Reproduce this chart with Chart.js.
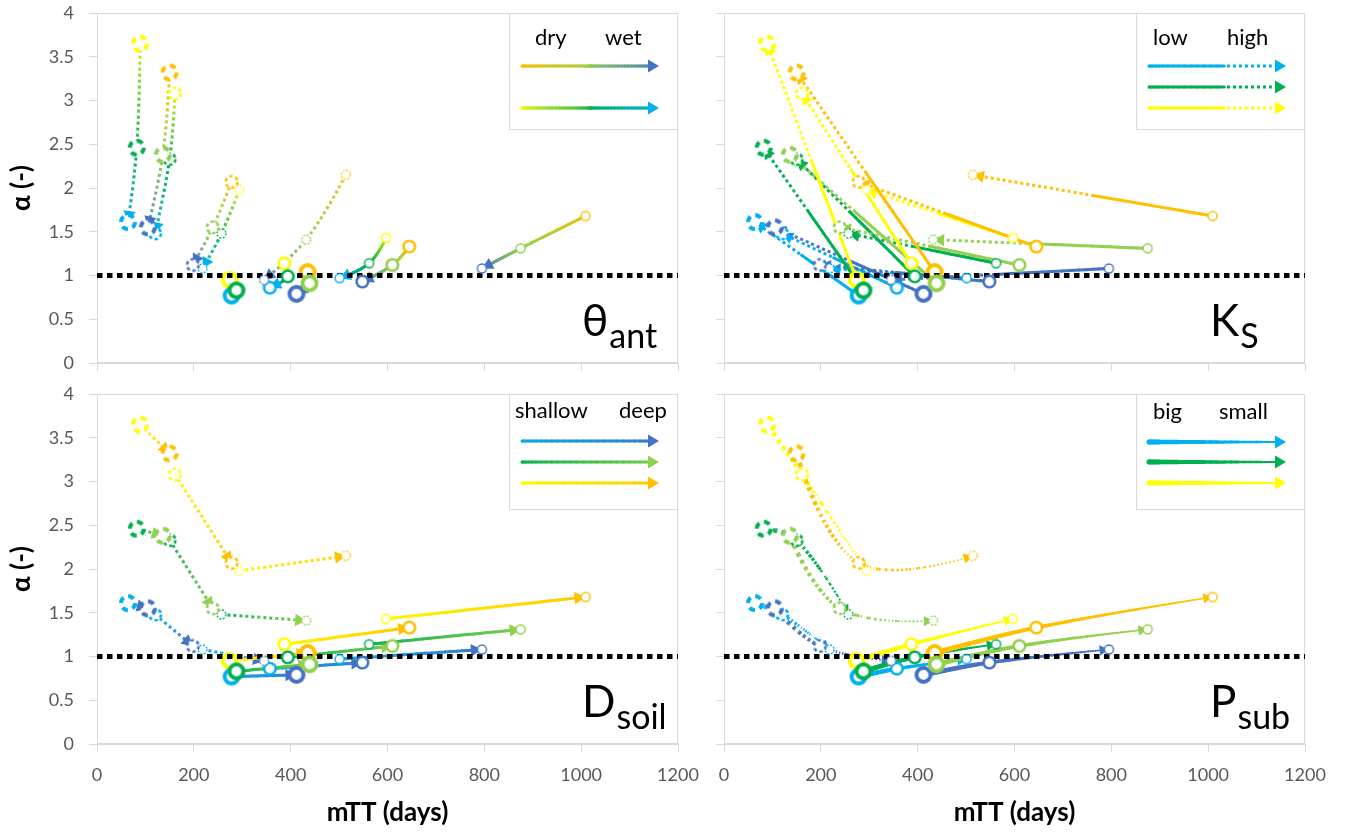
<!DOCTYPE html>
<html><head><meta charset="utf-8">
<script src="https://cdn.jsdelivr.net/npm/chart.js@4.4.1/dist/chart.umd.min.js"></script>
<style>
html,body{margin:0;padding:0;background:#fff;}
body{width:1351px;height:833px;position:relative;overflow:hidden;}
canvas{position:absolute;}
</style></head><body>
<canvas id="c1" width="705" height="378" style="left:0;top:0;width:705px;height:378px"></canvas>
<canvas id="c2" width="661" height="378" style="left:690px;top:0;width:661px;height:378px"></canvas>
<canvas id="c3" width="705" height="455" style="left:0;top:378px;width:705px;height:455px"></canvas>
<canvas id="c4" width="661" height="455" style="left:690px;top:378px;width:661px;height:455px"></canvas>
<script>
// ---------------- DATA ----------------
const thetaLevels = ['dry', 'mid', 'wet'];          // antecedent moisture
const ksLevels = ['low', 'high'];                   // saturated conductivity
const dsoilLevels = ['shallow', 'deep'];            // soil depth
const psubLevels = ['big', 'medium', 'small'];      // subsurface parameter
// order inside each array: Ks(low,high) x Dsoil(shallow,deep) x Psub(big,medium,small)
const mTT_dry   = [274, 387, 597,  435, 645, 1009,  89, 161, 294,  150, 278, 514];
const alpha_dry = [0.95, 1.14, 1.43, 1.04, 1.33, 1.68, 3.65, 3.08, 1.98, 3.32, 2.07, 2.15];
const mTT_mid   = [288, 394, 562,  439, 610, 875,   82, 150, 257,  136, 239, 432];
const alpha_mid = [0.83, 0.99, 1.14, 0.91, 1.12, 1.31, 2.46, 2.33, 1.48, 2.38, 1.55, 1.41];
const mTT_wet   = [278, 357, 501,  412, 548, 795,   64, 120, 218,  105, 198, 345];
const alpha_wet = [0.77, 0.86, 0.97, 0.79, 0.93, 1.08, 1.61, 1.48, 1.08, 1.55, 1.12, 0.95];
const xTicks = [0, 200, 400, 600, 800, 1000, 1200];
const yTicks = [0, 0.5, 1, 1.5, 2, 2.5, 3, 3.5, 4];
const refAlpha = 1;
const xTitle = 'mTT (days)';
const yTitle = 'α (-)';
const panelLabels = [['θ', 'ant'], ['K', 'S'], ['D', 'soil'], ['P', 'sub']];
const legendWords = [['dry', 'wet'], ['low', 'high'], ['shallow', 'deep'], ['big', 'small']];

const seriesX = [mTT_dry, mTT_mid, mTT_wet];
const seriesY = [alpha_dry, alpha_mid, alpha_wet];

// ---------------- STYLE ----------------
const FONT = "Lato, 'Open Sans', 'DejaVu Sans', sans-serif";
Chart.defaults.font.family = FONT;
const pointColors = [['#FFFF00', '#FFC000'], ['#00B050', '#92D050'], ['#00B0F0', '#4472C4']];
const drawOrder = [3, 1, 2]; // dry drawn first, then wet, then mid on top
const IDX = (k, d, p) => k * 6 + d * 3 + p;

function hexToRgb(h) { h = h.replace('#', ''); return [parseInt(h.slice(0, 2), 16), parseInt(h.slice(2, 4), 16), parseInt(h.slice(4, 6), 16)]; }
function mix(c0, c1, t) {
  const a = hexToRgb(c0), b = hexToRgb(c1);
  return 'rgb(' + Math.round(a[0] + (b[0] - a[0]) * t) + ',' + Math.round(a[1] + (b[1] - a[1]) * t) + ',' + Math.round(a[2] + (b[2] - a[2]) * t) + ')';
}

// marker canvases
function makeMarker(color, dotted, p) {
  const r = [7, 5.8, 4.5][p], lw = [4, 2.6, 1.4][p];
  const size = Math.ceil(2 * (r + lw / 2) + 2);
  const c = document.createElement('canvas'); c.width = c.height = size;
  const g = c.getContext('2d');
  g.beginPath(); g.arc(size / 2, size / 2, r, 0, Math.PI * 2);
  g.fillStyle = '#fff'; g.fill();
  g.strokeStyle = color; g.lineWidth = lw;
  if (dotted) {
    const circ = 2 * Math.PI * r; const n = [4, 6, 8][p];
    g.setLineDash([circ / n * 0.55, circ / n * 0.45]);
  }
  g.stroke();
  return c;
}
const markers = thetaLevels.map((_, t) => {
  const arr = [];
  for (let k = 0; k < 2; k++) for (let d = 0; d < 2; d++) for (let p = 0; p < 3; p++)
    arr[IDX(k, d, p)] = makeMarker(pointColors[t][d], k === 1, p);
  return arr;
});

// ---------------- LINE DRAWING ----------------
function splineCps(p0, p1, p2, ten) {
  const d01 = Math.hypot(p1.x - p0.x, p1.y - p0.y), d12 = Math.hypot(p2.x - p1.x, p2.y - p1.y);
  const s = d01 + d12 || 1;
  const fa = ten * d01 / s, fb = ten * d12 / s;
  return {
    prev: { x: p1.x - fa * (p2.x - p0.x), y: p1.y - fa * (p2.y - p0.y) },
    next: { x: p1.x + fb * (p2.x - p0.x), y: p1.y + fb * (p2.y - p0.y) }
  };
}
function drawChain(ctx, P, colors, o) {
  const segs = [];
  for (let i = 0; i < P.length - 1; i++) {
    let c1 = P[i], c2 = P[i + 1];
    if (o.curve && P.length > 2) {
      if (i > 0) c1 = splineCps(P[i - 1], P[i], P[i + 1], 0.4).next;
      if (i + 1 < P.length - 1) c2 = splineCps(P[i], P[i + 1], P[i + 2], 0.4).prev;
    }
    segs.push([P[i], c1, c2, P[i + 1]]);
  }
  const S = []; let L = 0; const n = 30;
  segs.forEach((s, i) => {
    for (let j = (i === 0 ? 0 : 1); j <= n; j++) {
      const t = j / n, u = 1 - t;
      const x = u * u * u * s[0].x + 3 * u * u * t * s[1].x + 3 * u * t * t * s[2].x + t * t * t * s[3].x;
      const y = u * u * u * s[0].y + 3 * u * u * t * s[1].y + 3 * u * t * t * s[2].y + t * t * t * s[3].y;
      if (S.length) { const q = S[S.length - 1]; L += Math.hypot(x - q.x, y - q.y); }
      S.push({ x, y, len: L, col: mix(colors[i], colors[i + 1], t) });
    }
  });
  if (L < 1) return;
  const A = o.arrowA || (8 + o.w1 * 1.0), H = o.arrowH || (4.5 + o.w1 * 0.55);
  const stop = L - A * 0.75;
  ctx.save();
  for (let j = 0; j < S.length - 1; j++) {
    const p = S[j], q = S[j + 1];
    if (p.len >= stop) break;
    const f = p.len / L; const w = o.w0 + (o.w1 - o.w0) * f;
    const dotted = o.mode === 'dot' || (o.mode === 'ks' && f > 0.5);
    let qx = q.x, qy = q.y;
    if (q.len > stop) { const r = (stop - p.len) / (q.len - p.len); qx = p.x + (q.x - p.x) * r; qy = p.y + (q.y - p.y) * r; }
    ctx.beginPath(); ctx.moveTo(p.x, p.y); ctx.lineTo(qx, qy);
    ctx.strokeStyle = p.col; ctx.lineWidth = w;
    if (dotted) { const dd = Math.max(2, w); ctx.setLineDash([dd, dd]); ctx.lineDashOffset = p.len; ctx.lineCap = 'butt'; }
    else { ctx.setLineDash([]); ctx.lineCap = 'round'; }
    ctx.stroke();
  }
  ctx.setLineDash([]);
  const end = S[S.length - 1];
  let k = S.length - 1; while (k > 0 && L - S[k].len < A) k--;
  const dx = end.x - S[k].x, dy = end.y - S[k].y; const dl = Math.hypot(dx, dy) || 1;
  const ux = dx / dl, uy = dy / dl;
  const bx = end.x - ux * A, by = end.y - uy * A;
  ctx.beginPath(); ctx.moveTo(end.x, end.y);
  ctx.lineTo(bx - uy * H, by + ux * H); ctx.lineTo(bx + uy * H, by - ux * H); ctx.closePath();
  ctx.fillStyle = colors[colors.length - 1]; ctx.fill();
  ctx.restore();
}

function chainsFor(kind) {
  const out = [];
  if (kind === 'theta') {
    for (let k = 0; k < 2; k++) for (let d = 0; d < 2; d++) for (let p = 0; p < 3; p++)
      out.push({ pts: [[0, IDX(k, d, p)], [1, IDX(k, d, p)], [2, IDX(k, d, p)]], cols: [pointColors[0][d], pointColors[1][d], pointColors[2][d]], k, p });
  } else if (kind === 'ks') {
    for (let t = 2; t >= 0; t--) for (let d = 0; d < 2; d++) for (let p = 0; p < 3; p++)
      out.push({ pts: [[t, IDX(0, d, p)], [t, IDX(1, d, p)]], cols: [pointColors[t][d], pointColors[t][d]], k: -1, p });
  } else if (kind === 'dsoil') {
    for (let t = 2; t >= 0; t--) for (let k = 0; k < 2; k++) for (let p = 0; p < 3; p++)
      out.push({ pts: [[t, IDX(k, 0, p)], [t, IDX(k, 1, p)]], cols: [pointColors[t][0], pointColors[t][1]], k, p });
  } else {
    for (let t = 2; t >= 0; t--) for (let k = 0; k < 2; k++) for (let d = 0; d < 2; d++)
      out.push({ pts: [[t, IDX(k, d, 0)], [t, IDX(k, d, 1)], [t, IDX(k, d, 2)]], cols: [pointColors[t][d], pointColors[t][d], pointColors[t][d]], k, p: 0 });
  }
  return out;
}

const legendSpec = {
  theta: { rows: [53, 95], cols: [['#FFC000', '#92D050', '#4472C4'], ['#FFFF00', '#00B050', '#00B0F0']], words: 0, wx: [143, 73], wy: 32, mode: 'solid' },
  ks: { rows: [53, 74, 95], cols: [['#00B0F0'], ['#00B050'], ['#FFFF00']], words: 1, wx: [152, 78], wy: 32, mode: 'ks' },
  dsoil: { rows: [47, 68, 89], cols: [['#00B0F0', '#4472C4'], ['#00B050', '#92D050'], ['#FFFF00', '#FFC000']], words: 2, wx: [163, 59], wy: 24, mode: 'solid' },
  psub: { rows: [48, 68, 89], cols: [['#00B0F0'], ['#00B050'], ['#FFFF00']], words: 3, wx: [152, 86], wy: 25, mode: 'taper' }
};

function drawRefLine(chart) {
  const { ctx, scales: { x, y } } = chart;
  const yr = y.getPixelForValue(refAlpha);
  ctx.save();
  ctx.setLineDash([5.5, 4.5]); ctx.lineWidth = 5; ctx.strokeStyle = '#000'; ctx.lineCap = 'butt';
  ctx.beginPath(); ctx.moveTo(x.getPixelForValue(x.min), yr); ctx.lineTo(x.getPixelForValue(x.max), yr); ctx.stroke();
  ctx.restore();
}

const decor = {
  id: 'decor',
  beforeDatasetsDraw(chart, args, opts) {
    const { ctx, chartArea: a, scales: { x, y } } = chart;
    ctx.save();
    ctx.strokeStyle = '#D9D9D9'; ctx.lineWidth = 1;
    ctx.strokeRect(a.left + 0.5, a.top + 0.5, a.right - a.left - 1, a.bottom - a.top - 1);
    const kind = opts.kind;
    chainsFor(kind).forEach(c => {
      const P = c.pts.map(([t, i]) => ({ x: x.getPixelForValue(seriesX[t][i]), y: y.getPixelForValue(seriesY[t][i]) }));
      let o;
      if (kind === 'psub') o = { curve: true, w0: 5, w1: 1.3, mode: c.k === 1 ? 'dot' : 'solid' };
      else if (kind === 'ks') o = { curve: false, w0: 3, w1: 3, mode: 'ks' };
      else o = { curve: kind === 'theta', w0: 3, w1: 3, mode: c.k === 1 ? 'dot' : 'solid' };
      drawChain(ctx, P, c.cols, o);
    });
    ctx.restore();
  },
  afterDatasetDraw(chart, args) {
    if (args.index === 0) drawRefLine(chart);
  },
  afterDatasetsDraw(chart, args, opts) {
    const { ctx, chartArea: a } = chart;
    const spec = legendSpec[opts.kind];
    ctx.save();
    const bw = 169, bh = opts.top ? 117 : 116, bx = a.right - bw, by = a.top;
    ctx.fillStyle = '#fff'; ctx.fillRect(bx, by, bw, bh);
    ctx.strokeStyle = '#D9D9D9'; ctx.lineWidth = 1; ctx.strokeRect(bx + 0.5, by + 0.5, bw - 1, bh - 1);
    ctx.fillStyle = '#000'; ctx.font = '22px ' + FONT; ctx.textBaseline = 'alphabetic'; ctx.textAlign = 'left';
    const w = legendWords[spec.words];
    ctx.fillText(w[0], a.right - spec.wx[0], a.top + spec.wy);
    ctx.fillText(w[1], a.right - spec.wx[1], a.top + spec.wy);
    const x0 = a.right - 156, x1 = a.right - 19;
    spec.rows.forEach((ry, r) => {
      const cs = spec.cols[r];
      const yy = a.top + ry;
      let P, C;
      if (cs.length === 3) { P = [{ x: x0, y: yy }, { x: (x0 + x1) / 2, y: yy }, { x: x1, y: yy }]; C = cs; }
      else if (cs.length === 2) { P = [{ x: x0, y: yy }, { x: x1, y: yy }]; C = cs; }
      else { P = [{ x: x0, y: yy }, { x: x1, y: yy }]; C = [cs[0], cs[0]]; }
      let o;
      if (spec.mode === 'taper') o = { curve: false, w0: 5, w1: 1.5, mode: 'solid' };
      else if (spec.mode === 'ks') o = { curve: false, w0: 3, w1: 3, mode: 'ks' };
      else o = { curve: false, w0: 3, w1: 3, mode: 'solid' };
      o.arrowA = 11; o.arrowH = 6.5;
      drawChain(ctx, P, C, o);
    });
    const lab = panelLabels[opts.label];
    ctx.fillStyle = '#000';
    ctx.font = '44px ' + FONT;
    const lx = a.left + opts.lx, base = a.top + 323;
    ctx.fillText(lab[0], lx, base);
    const mw = ctx.measureText(lab[0]).width;
    ctx.font = '34px ' + FONT;
    ctx.fillText(lab[1], lx + mw + 1, a.top + 335);
    ctx.restore();
  }
};

function makeChart(id, kind, label, showX, showY, yW, xH, padTop, padRight, lx, top) {
  const datasets = thetaLevels.map((th, t) => ({
    label: th,
    order: drawOrder[t],
    data: seriesX[t].map((v, i) => ({ x: v, y: seriesY[t][i] })),
    showLine: false,
    pointRadius: 8,
    pointHoverRadius: 8,
    pointStyle: (c) => markers[t][c.dataIndex]
  }));
  const tickFont = { size: 18, family: FONT };
  return new Chart(document.getElementById(id), {
    type: 'scatter',
    data: { datasets },
    options: {
      responsive: false, animation: false, events: [],
      layout: { autoPadding: false, padding: { left: 0, top: padTop, right: padRight, bottom: 0 } },
      plugins: { legend: { display: false }, tooltip: { enabled: false },
        decor: { kind, label, lx, top } },
      scales: {
        x: {
          type: 'linear', min: 0, max: 1200,
          afterBuildTicks: s => { s.ticks = xTicks.map(v => ({ value: v })); },
          ticks: { display: showX, color: '#595959', font: tickFont, padding: 12, maxRotation: 0, autoSkip: false, callback: v => String(v) },
          grid: { drawOnChartArea: false, drawTicks: true, tickLength: 8, color: '#D9D9D9' },
          border: { display: true, color: '#D9D9D9' },
          title: { display: showX, text: xTitle, color: '#000', font: { size: 26, weight: 'bold', family: FONT }, padding: { top: 0, bottom: 5 } },
          afterFit: s => { s.height = xH; s.paddingLeft = 0; s.paddingRight = 0; }
        },
        y: {
          type: 'linear', min: 0, max: 4,
          afterBuildTicks: s => { s.ticks = yTicks.map(v => ({ value: v })); },
          ticks: { display: showY, color: '#595959', font: tickFont, padding: 15, autoSkip: false, callback: v => String(v) },
          grid: { drawOnChartArea: false, drawTicks: true, tickLength: 8, color: '#D9D9D9' },
          border: { display: true, color: '#D9D9D9' },
          title: { display: showY, text: yTitle, color: '#000', font: { size: 26, weight: 'bold', family: FONT }, padding: { top: 6, bottom: 0 } },
          afterFit: s => { s.width = yW; s.paddingTop = 0; s.paddingBottom = 0; }
        }
      }
    },
    plugins: [decor]
  });
}

makeChart('c1', 'theta', 0, false, true, 97, 15, 13, 27, 485, true);
makeChart('c2', 'ks', 1, false, false, 34, 15, 13, 46, 486, true);
makeChart('c3', 'dsoil', 2, true, true, 97, 89, 16, 27, 485, false);
makeChart('c4', 'psub', 3, true, false, 34, 89, 16, 46, 486, false);
</script>
</body></html>
